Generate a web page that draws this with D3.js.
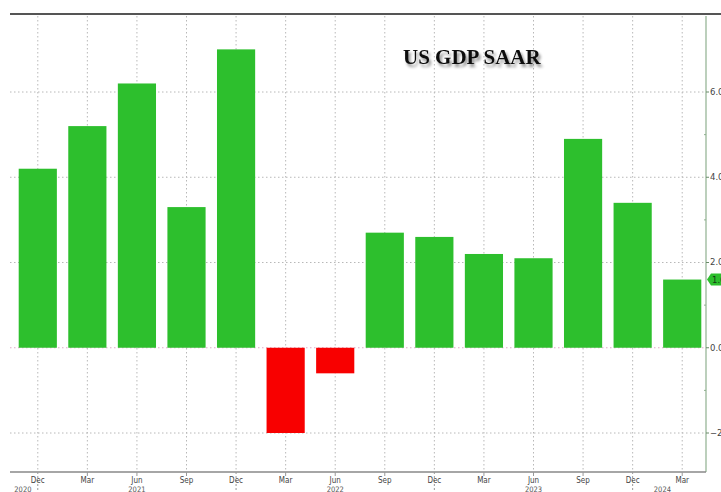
<!DOCTYPE html>
<html>
<head>
<meta charset="utf-8">
<script src="https://cdn.jsdelivr.net/npm/d3@7"></script>
<style>
  body { margin: 0; background: #fff; }
  svg { display: block; }
</style>
</head>
<body>
<div id="chart"></div>
<script>
var w = 721;
var h = 492;

// quarters, Dec 2020 .. Mar 2024
var months = ["Dec", "Mar", "Jun", "Sep", "Dec", "Mar", "Jun", "Sep", "Dec", "Mar", "Jun", "Sep", "Dec", "Mar"];
var gdp = [4.2, 5.2, 6.2, 3.3, 7.0, -2.0, -0.6, 2.7, 2.6, 2.2, 2.1, 4.9, 3.4, 1.6];
var yearLabels = ["2020", "2021", "2022", "2023", "2024"];
var yearPos = [-0.3, 2, 6, 10, 12.6];   // in quarter index units
var yTicks = [-2, 0, 2, 4, 6];
var yMinor = [-1, 1, 3, 5];
var lastValue = "1.6";

var green = "#2dbf2d";
var red = "#f80000";

var plotLeft = 10, plotRight = 706, plotTop = 14, plotBottom = 472;

var idx = d3.range(gdp.length);

var x = d3.scalePoint()
  .domain(idx)
  .range([13, 707])
  .padding(0.5);

var xi = d3.scaleLinear()
  .domain([0, gdp.length - 1])
  .range([x(0), x(gdp.length - 1)]);

var y = d3.scaleLinear()
  .domain([-2, 6])
  .range([433, 92]);

var barW = x.step() * 0.77;

var svg = d3.select("#chart").append("svg")
  .attr("width", w)
  .attr("height", h);

var defs = svg.append("defs");
defs.append("filter")
  .attr("id", "shadow")
  .attr("x", "-10%").attr("y", "-30%")
  .attr("width", "130%").attr("height", "180%")
  .append("feDropShadow")
  .attr("dx", 2).attr("dy", 3)
  .attr("stdDeviation", 1.6)
  .attr("flood-color", "#000")
  .attr("flood-opacity", 0.45);

// vertical grid
svg.append("g").selectAll("line")
  .data(idx)
  .join("line")
  .attr("x1", function (d) { return x(d); })
  .attr("x2", function (d) { return x(d); })
  .attr("y1", plotTop + 2)
  .attr("y2", plotBottom)
  .attr("stroke", "#b8b8b8")
  .attr("stroke-width", 1)
  .attr("stroke-dasharray", "1.5,2.5");

// horizontal grid
svg.append("g").selectAll("line")
  .data(yTicks)
  .join("line")
  .attr("x1", plotLeft)
  .attr("x2", plotRight)
  .attr("y1", function (d) { return y(d); })
  .attr("y2", function (d) { return y(d); })
  .attr("stroke", function (d) { return d === 0 ? "#e0a8c8" : "#b8b8b8"; })
  .attr("stroke-width", 1)
  .attr("stroke-dasharray", "1.5,2.5");

// bars
svg.append("g").selectAll("rect")
  .data(idx)
  .join("rect")
  .attr("x", function (d) { return x(d) - barW / 2; })
  .attr("width", barW)
  .attr("y", function (d) { return y(Math.max(0, gdp[d])); })
  .attr("height", function (d) { return Math.abs(y(gdp[d]) - y(0)); })
  .attr("fill", function (d) { return gdp[d] >= 0 ? green : red; });

// top border
svg.append("line")
  .attr("x1", plotLeft).attr("x2", w)
  .attr("y1", plotTop).attr("y2", plotTop)
  .attr("stroke", "#555")
  .attr("stroke-width", 2);

// right axis
var yAxis = svg.append("g");
yAxis.append("line")
  .attr("x1", plotRight).attr("x2", plotRight)
  .attr("y1", plotTop + 2).attr("y2", plotBottom)
  .attr("stroke", "#8fb08f")
  .attr("stroke-width", 1.2);
yAxis.selectAll(".major")
  .data(yTicks)
  .join("line")
  .attr("class", "major")
  .attr("x1", plotRight).attr("x2", plotRight + 3)
  .attr("y1", function (d) { return y(d); })
  .attr("y2", function (d) { return y(d); })
  .attr("stroke", "#6a8a6a");
yAxis.selectAll(".minor")
  .data(yMinor)
  .join("line")
  .attr("class", "minor")
  .attr("x1", plotRight - 2).attr("x2", plotRight)
  .attr("y1", function (d) { return y(d); })
  .attr("y2", function (d) { return y(d); })
  .attr("stroke", "#8fb08f");
yAxis.selectAll("text")
  .data(yTicks)
  .join("text")
  .attr("x", plotRight + 4)
  .attr("y", function (d) { return y(d); })
  .attr("dy", "0.35em")
  .attr("font-family", "DejaVu Sans, sans-serif")
  .attr("font-size", 8.5)
  .attr("fill", "#444")
  .text(function (d) { return d3.format(".1f")(d); });

// last value badge
var by = y(gdp[gdp.length - 1]);
svg.append("path")
  .attr("d", "M" + (plotRight + 1) + "," + by +
    " L" + (plotRight + 5) + "," + (by - 6) +
    " L" + w + "," + (by - 6) +
    " L" + w + "," + (by + 6) +
    " L" + (plotRight + 5) + "," + (by + 6) + " Z")
  .attr("fill", green);
svg.append("text")
  .attr("x", plotRight + 6)
  .attr("y", by)
  .attr("dy", "0.35em")
  .attr("font-family", "DejaVu Sans, sans-serif")
  .attr("font-size", 8.5)
  .attr("fill", "#173817")
  .text(lastValue);

// bottom axis
var xAxis = svg.append("g");
xAxis.append("line")
  .attr("x1", plotLeft).attr("x2", plotRight)
  .attr("y1", plotBottom).attr("y2", plotBottom)
  .attr("stroke", "#888")
  .attr("stroke-width", 1.5);
xAxis.selectAll(".tick")
  .data(idx)
  .join("line")
  .attr("class", "tick")
  .attr("x1", function (d) { return x(d); })
  .attr("x2", function (d) { return x(d); })
  .attr("y1", plotBottom)
  .attr("y2", function (d) { return months[d] === "Dec" ? h : plotBottom + 4; })
  .attr("stroke", "#999")
  .attr("stroke-dasharray", function (d) { return months[d] === "Dec" ? "2,2" : null; });
xAxis.selectAll(".month")
  .data(idx)
  .join("text")
  .attr("class", "month")
  .attr("x", function (d) { return x(d); })
  .attr("y", plotBottom + 11)
  .attr("text-anchor", "middle")
  .attr("font-family", "DejaVu Sans Condensed, DejaVu Sans, sans-serif")
  .attr("font-size", 8)
  .attr("fill", "#444")
  .text(function (d) { return months[d]; });
xAxis.selectAll(".year")
  .data(yearLabels)
  .join("text")
  .attr("class", "year")
  .attr("x", function (d, i) { return xi(yearPos[i]); })
  .attr("y", plotBottom + 19.5)
  .attr("text-anchor", "middle")
  .attr("font-family", "DejaVu Sans Condensed, DejaVu Sans, sans-serif")
  .attr("font-size", 7.5)
  .attr("fill", "#555")
  .text(function (d) { return d; });

// title
svg.append("text")
  .attr("x", 403)
  .attr("y", 64)
  .attr("font-family", "Liberation Serif, serif")
  .attr("font-weight", "bold")
  .attr("font-size", 21)
  .attr("fill", "#111")
  .attr("filter", "url(#shadow)")
  .text("US GDP SAAR");
</script>
</body>
</html>
